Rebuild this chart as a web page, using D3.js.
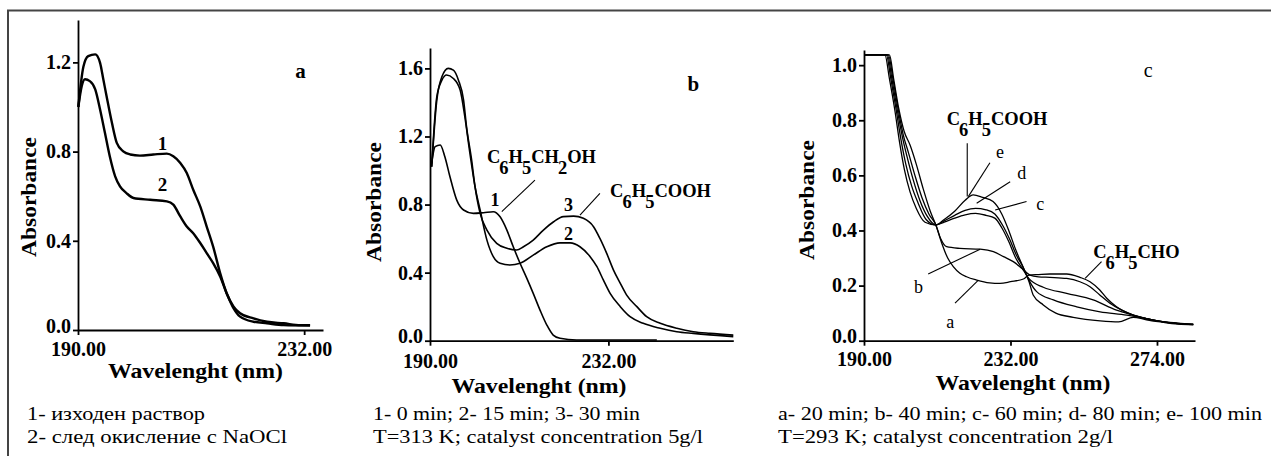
<!DOCTYPE html>
<html>
<head>
<meta charset="utf-8">
<script src="https://cdn.jsdelivr.net/npm/d3@7"></script>
<style>
  body { margin: 0; background: #fff; }
  svg { display: block; font-family: "Liberation Serif", "Times New Roman", serif; }
  text { font-family: "Liberation Serif", "Times New Roman", serif; }
  .axis path, .axis line { stroke: #000; stroke-width: 1.8; }
  .axis text { font-size: 20px; font-weight: bold; fill: #000; font-family: "Liberation Serif", serif; }
  .curve { fill: none; stroke: #000; stroke-linejoin: round; }
  .leader { stroke: #000; stroke-width: 1.1; }
</style>
</head>
<body>
<svg id="chart" width="1271" height="456"></svg>
<script>
//Data (wavelength nm, absorbance)
const xTicksA = [190, 232];
const yTicksA = [0, 0.4, 0.8, 1.2];
const xTicksB = [190, 232];
const yTicksB = [0, 0.4, 0.8, 1.2, 1.6];
const xTicksC = [190, 232, 274];
const yTicksC = [0, 0.2, 0.4, 0.6, 0.8, 1.0];

// panel a: 1 - initial solution, 2 - after NaOCl oxidation
const a1 = [[190.06,1.0],[191.0,1.18],[191.9,1.228],[193.2,1.236],[194.1,1.198],[194.7,1.124],[195.3,1.049],[196.3,0.929],[197.2,0.839],[198.4,0.801],[199.7,0.787],[201.5,0.782],[204.0,0.787],[206.5,0.791],[207.7,0.779],[209.0,0.749],[210.2,0.704],[211.4,0.629],[212.7,0.554],[213.9,0.464],[215.1,0.374],[216.4,0.255],[217.6,0.165],[218.9,0.105],[220.1,0.075],[222.6,0.052],[225.1,0.037],[228.2,0.03],[231.3,0.022],[233.1,0.022]];
const a2 = [[190.06,1.0],[190.7,1.094],[191.3,1.124],[192.2,1.116],[193.2,1.079],[194.1,0.989],[195.0,0.884],[195.9,0.779],[196.9,0.689],[197.8,0.644],[199.0,0.614],[200.3,0.592],[203.4,0.584],[206.5,0.577],[207.7,0.562],[209.0,0.509],[210.2,0.464],[211.4,0.434],[212.7,0.39],[213.9,0.345],[215.1,0.3],[216.4,0.24],[217.6,0.165],[218.9,0.097],[220.1,0.06],[222.6,0.037],[225.1,0.03],[228.2,0.022],[233.1,0.02]];

// panel b: 1 - 0 min, 2 - 15 min, 3 - 30 min
const b1 = [[190.4,1.042],[191.2,1.14],[192.4,1.15],[193.5,1.081],[194.7,0.963],[196.3,0.826],[197.9,0.768],[200.2,0.748],[202.6,0.752],[204.9,0.758],[206.5,0.728],[208.1,0.65],[209.6,0.552],[211.2,0.455],[212.8,0.366],[214.3,0.278],[215.9,0.18],[217.5,0.092],[219.0,0.033],[220.6,0.014],[224.5,0.004],[243.4,0.004]];
const b2 = [[190.4,1.022],[191.6,1.433],[192.8,1.531],[193.9,1.561],[195.5,1.541],[197.1,1.473],[198.2,1.316],[199.4,1.101],[200.6,0.905],[201.8,0.768],[203.4,0.591],[204.9,0.494],[206.5,0.455],[208.8,0.445],[211.2,0.455],[214.3,0.503],[217.5,0.552],[220.6,0.575],[223.0,0.575],[225.3,0.552],[227.7,0.494],[229.3,0.435],[230.8,0.357],[232.4,0.278],[234.8,0.2],[237.1,0.141],[240.2,0.102],[244.2,0.073],[248.1,0.053],[252.0,0.043],[261.4,0.024]];
const b3 = [[190.4,1.022],[191.6,1.414],[192.8,1.551],[194.3,1.6],[195.5,1.59],[196.7,1.531],[197.9,1.414],[198.6,1.257],[199.8,1.061],[200.6,0.905],[201.8,0.748],[203.4,0.65],[205.7,0.572],[208.1,0.543],[210.4,0.533],[212.0,0.552],[214.3,0.591],[216.7,0.65],[219.1,0.699],[221.4,0.729],[223.8,0.732],[226.1,0.719],[228.5,0.67],[230.0,0.601],[231.6,0.513],[233.2,0.415],[234.8,0.337],[236.3,0.268],[238.7,0.2],[241.0,0.141],[244.2,0.102],[248.1,0.073],[252.0,0.053],[255.9,0.043],[261.4,0.033]];

// panel c: a - 20 min ... e - 100 min
const cA = [[190,1.037],[197.3,1.037],[198.5,0.95],[200,0.84],[201.5,0.76],[203.2,0.71],[205,0.64],[207,0.55],[209,0.47],[210.6,0.42],[212.3,0.354],[214,0.3],[215.6,0.269],[217.5,0.245],[219.4,0.232],[222.3,0.22],[226,0.21],[229,0.208],[232,0.214],[235.7,0.224],[237.3,0.238],[240,0.24],[243.3,0.242],[248.1,0.242],[251.9,0.23],[254.8,0.214],[257.6,0.184],[259.6,0.154],[262.4,0.123],[267.2,0.093],[271,0.08],[275,0.07],[280,0.062],[284.4,0.058]];
const cB = [[190,1.037],[197,1.037],[198.3,0.95],[199.8,0.84],[201.2,0.75],[202.8,0.68],[204.6,0.6],[206.6,0.52],[208.6,0.46],[210.6,0.42],[212,0.37],[213.7,0.341],[217.5,0.335],[223.3,0.332],[227.1,0.323],[230,0.305],[232.8,0.287],[235.3,0.262],[237.6,0.238],[240,0.232],[243.3,0.23],[248.1,0.226],[251.9,0.214],[254.8,0.196],[257.6,0.166],[260.5,0.136],[264,0.11],[267.2,0.093],[271,0.08],[275,0.07],[280,0.064],[284.4,0.06]];
const cC = [[190,1.037],[196.7,1.037],[198,0.95],[199.5,0.84],[201,0.74],[202.5,0.66],[204.2,0.58],[206,0.51],[208.2,0.45],[210.6,0.42],[213,0.43],[216,0.445],[219,0.457],[222,0.462],[225,0.455],[227.5,0.445],[229.5,0.41],[231.5,0.36],[233.5,0.3],[235.5,0.26],[237.3,0.225],[241.4,0.194],[248.1,0.172],[255.7,0.148],[262.4,0.111],[267.2,0.093],[271,0.08],[275,0.07],[280,0.063],[284.4,0.06]];
const cD = [[190,1.037],[196.4,1.037],[197.7,0.95],[199.2,0.84],[200.6,0.73],[202,0.64],[203.7,0.56],[205.5,0.5],[207.8,0.44],[210.6,0.42],[213,0.435],[216,0.455],[219,0.473],[222,0.48],[225,0.475],[227.5,0.46],[229.7,0.42],[231.7,0.37],[233.7,0.31],[235.7,0.265],[237.3,0.22],[239.5,0.178],[244.3,0.148],[251,0.123],[257.7,0.105],[265.3,0.093],[271,0.08],[275,0.07],[280,0.062],[284.4,0.058]];
const cE = [[190,1.037],[196,1.037],[197.3,0.95],[198.8,0.84],[200.2,0.72],[201.6,0.62],[203.2,0.54],[205,0.48],[207.5,0.43],[210.6,0.42],[213,0.44],[216,0.47],[219,0.51],[221.3,0.529],[224,0.52],[227,0.505],[229.5,0.46],[231.5,0.4],[233.5,0.33],[235.5,0.27],[237.3,0.215],[238.5,0.166],[241.4,0.13],[245,0.1],[250,0.085],[257.7,0.072],[263,0.068],[267.2,0.085],[271,0.076],[275,0.068],[280,0.06],[284.4,0.058]];

const capA = ['1- изходен раствор', '2- след окисление с NaOCl'];
const capB = ['1- 0 min; 2- 15 min; 3- 30 min', 'T=313 K; catalyst concentration 5g/l'];
const capC = ['a- 20 min; b- 40 min; c- 60 min; d- 80 min; e- 100 min', 'T=293 K; catalyst concentration 2g/l'];

//Layout
const panels = [
  {
    xRange: [78, 323], yRange: [330, 20], xDom: [190, 235.5], yDom: [0, 1.39],
    xTicks: xTicksA, yTicks: yTicksA, curves: [a1, a2], sw: 2.4, tickY: 26,
    xTitle: [195.5, 378], yTitle: [35.5, 197],
    caps: capA, capX: 27, capW: [178, 260],
    labels: [
      { t: '1', at: [205.7, 0.839], bold: true, size: 19 },
      { t: '2', at: [205.7, 0.652], bold: true, size: 19 },
      { t: 'a', at: [231.3, 1.161], bold: true, size: 21 }
    ],
    formulas: [], leaders: []
  },
  {
    xRange: [430, 733.3], yRange: [340.7, 48], xDom: [190, 261.4], yDom: [0, 1.72],
    xTicks: xTicksB, yTicks: yTicksB, curves: [b1, b2, b3], sw: 1.6, tickY: 27,
    xTitle: [539, 393], yTitle: [380.5, 202],
    caps: capB, capX: 373, capW: [267, 330],
    labels: [
      { t: '1', at: [205.3, 0.826], bold: true, size: 18 },
      { t: '3', at: [222.6, 0.797], bold: true, size: 18 },
      { t: '2', at: [222.6, 0.631], bold: true, size: 18 },
      { t: 'b', at: [252.0, 1.512], bold: true, size: 21 }
    ],
    formulas: [
      { t: 'C6H5CH2OH', at: [203.4, 1.044] },
      { t: 'C6H5COOH', at: [232.4, 0.844] }
    ],
    leaders: [
      [[206.9, 0.758], [214.7, 0.944]],
      [[225.3, 0.738], [230.0, 0.866]]
    ]
  },
  {
    xRange: [864, 1195], yRange: [340.7, 50], xDom: [190, 284.9], yDom: [0, 1.055],
    xTicks: xTicksC, yTicks: yTicksC, curves: [cA, cB, cC, cD, cE], sw: 1.3, tickY: 25,
    xTitle: [1023, 390], yTitle: [814, 200],
    caps: capC, capX: 778, capW: [484, 335],
    labels: [
      { t: 'e', at: [229.0, 0.686], size: 18 },
      { t: 'd', at: [235.2, 0.608], size: 18 },
      { t: 'c', at: [240.5, 0.499], size: 18 },
      { t: 'b', at: [205.6, 0.196], size: 18 },
      { t: 'a', at: [214.7, 0.069], size: 18 },
      { t: 'c', at: [271.5, 0.983], size: 20 }
    ],
    formulas: [
      { t: 'C6H5COOH', at: [213.7, 0.783] },
      { t: 'C6H5CHO', at: [255.7, 0.300] }
    ],
    leaders: [
      [[219.6, 0.717], [219.6, 0.523]],
      [[226.1, 0.646], [219.9, 0.523]],
      [[231.9, 0.577], [222.3, 0.499]],
      [[236.6, 0.505], [227.6, 0.474]],
      [[208.4, 0.242], [223.3, 0.332]],
      [[216.1, 0.136], [222.8, 0.220]],
      [[253.4, 0.226], [258.1, 0.287]]
    ]
  }
];

const svg = d3.select('#chart');

// frame (only top and left edges are visible in the picture)
svg.append('path')
  .attr('d', 'M8,456 V10.5 H1271')
  .attr('fill', 'none').attr('stroke', '#444').attr('stroke-width', 2);

// chemical formula with digits as subscripts
const drawFormula = (g, x, y, str) => {
  const t = g.append('text')
    .attr('x', x).attr('y', y)
    .attr('font-size', 18.5).attr('font-weight', 'bold');
  let sub = false;
  [...str].forEach(ch => {
    const isDigit = /\d/.test(ch);
    const ts = t.append('tspan').text(ch);
    if (isDigit && !sub) ts.attr('dy', 11).attr('dx', -1);
    if (!isDigit && sub) ts.attr('dy', -11);
    sub = isDigit;
  });
};

const drawPanel = p => {
  const g = svg.append('g');
  const x = d3.scaleLinear().domain(p.xDom).range(p.xRange);
  const y = d3.scaleLinear().domain(p.yDom).range(p.yRange);

  // axes
  g.append('g')
    .attr('class', 'axis')
    .attr('transform', `translate(0,${p.yRange[0]})`)
    .call(d3.axisBottom(x).tickValues(p.xTicks).tickFormat(d3.format('.2f')).tickSize(5).tickSizeOuter(0))
    .selectAll('text').attr('dy', null).attr('y', p.tickY);

  g.append('g')
    .attr('class', 'axis')
    .attr('transform', `translate(${p.xRange[0]},0)`)
    .call(d3.axisLeft(y).tickValues(p.yTicks).tickFormat(d3.format('.1f')).tickSize(5).tickPadding(2).tickSizeOuter(0))
    .selectAll('text').filter(d => d === 0).attr('dy', '0.1em'); // lift 0.0 off the x labels

  // curves
  const line = d3.line().x(d => x(d[0])).y(d => y(d[1])).curve(d3.curveMonotoneX);
  p.curves.forEach(c => {
    g.append('path').attr('class', 'curve').attr('d', line(c)).attr('stroke-width', p.sw);
  });

  // leader lines
  p.leaders.forEach(([a, b]) => {
    g.append('line').attr('class', 'leader')
      .attr('x1', x(a[0])).attr('y1', y(a[1]))
      .attr('x2', x(b[0])).attr('y2', y(b[1]));
  });

  // labels
  p.labels.forEach(l => {
    g.append('text')
      .attr('x', x(l.at[0])).attr('y', y(l.at[1]))
      .attr('dy', '0.35em')
      .attr('text-anchor', 'middle')
      .attr('font-size', l.size)
      .attr('font-weight', l.bold ? 'bold' : 'normal')
      .text(l.t);
  });

  p.formulas.forEach(f => drawFormula(g, x(f.at[0]), y(f.at[1]), f.t));

  // axis titles
  g.append('text')
    .attr('x', p.xTitle[0]).attr('y', p.xTitle[1])
    .attr('text-anchor', 'middle')
    .attr('font-size', 22).attr('font-weight', 'bold')
    .attr('textLength', 175).attr('lengthAdjust', 'spacingAndGlyphs')
    .text('Wavelenght (nm)');

  g.append('text')
    .attr('transform', `translate(${p.yTitle[0]},${p.yTitle[1]}) rotate(-90)`)
    .attr('text-anchor', 'middle')
    .attr('font-size', 22).attr('font-weight', 'bold')
    .attr('textLength', 120).attr('lengthAdjust', 'spacingAndGlyphs')
    .text('Absorbance');

  // captions under each panel
  p.caps.forEach((c, i) => {
    g.append('text')
      .attr('x', p.capX).attr('y', 420 + i * 23)
      .attr('font-size', 18)
      .attr('textLength', p.capW[i]).attr('lengthAdjust', 'spacingAndGlyphs')
      .text(c);
  });
};

panels.forEach(drawPanel);
</script>
</body>
</html>
